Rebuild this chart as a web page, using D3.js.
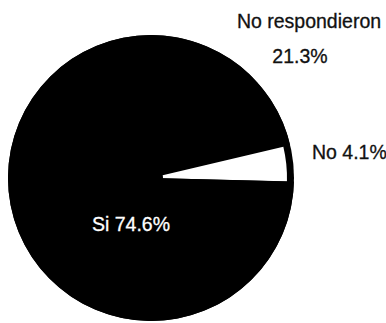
<!DOCTYPE html>
<html><head><meta charset="utf-8">
<script src="https://cdn.jsdelivr.net/npm/d3@7"></script>
<style>html,body{margin:0;padding:0;background:#fff;}svg{display:block;}</style>
</head><body>
<svg id="c" width="386" height="323"></svg>
<script>
const categories = ["No respondieron", "No", "Si"];
const values = [21.3, 4.1, 74.6];
const labels = ["21.3%", "4.1%", "74.6%"];
const fills = ["#000", "#fff", "#000"];

const svg = d3.select("#c");
const cx = 151, cy = 178, r = 143;
const g = svg.append("g").attr("transform", `translate(${cx},${cy})`);
const pie = d3.pie().sort(null).value(d => d.v).startAngle(0).endAngle(2 * Math.PI);
const data = pie(categories.map((c, i) => ({c, v: values[i], f: fills[i]})));
const arcFull = d3.arc().innerRadius(0).outerRadius(r);
const arcWhite = d3.arc().innerRadius(12).outerRadius(r - 7);

g.append("circle").attr("r", r).attr("fill", "#000");
g.selectAll("path.s").data(data).join("path")
  .attr("class", "s")
  .attr("d", d => d.data.f === "#fff" ? arcWhite(d) : arcFull(d))
  .attr("fill", d => d.data.f);

const font = "'Liberation Sans', Arial, sans-serif";
function t(x, y, s, col, anchor) {
  svg.append("text").attr("x", x).attr("y", y).attr("text-anchor", anchor)
    .attr("font-family", font).attr("font-size", 19.5).attr("fill", col)
    .attr("stroke", col).attr("stroke-width", 0.3).text(s);
}
t(309, 28, categories[0], "#111", "middle");
t(300, 63, labels[0], "#111", "middle");
t(312, 159, categories[1] + " " + labels[1], "#111", "start");
t(92, 231, categories[2] + " " + labels[2], "#fff", "start");
</script>
</body></html>
